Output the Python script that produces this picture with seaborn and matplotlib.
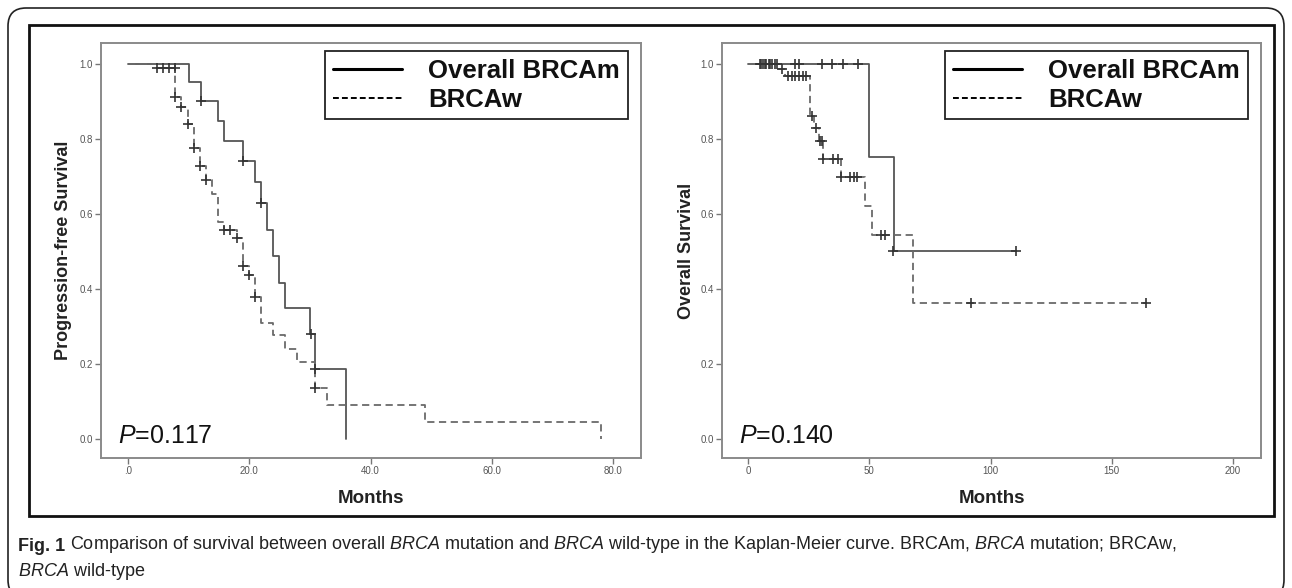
import numpy as np
import pandas as pd
import matplotlib
matplotlib.use("Agg")
import matplotlib.pyplot as plt
from matplotlib.lines import Line2D
from matplotlib.patches import FancyBboxPatch, Rectangle
from matplotlib import font_manager
import seaborn as sns

# Kaplan-Meier step data
groups = ["Overall BRCAm", "BRCAw"]

# Progression-free survival (left panel)
pfs_m_time = [0, 10.0, 12.0, 14.9, 15.9, 19.0, 20.9, 22.0, 22.9, 23.9, 24.9, 25.9, 30.0, 30.9, 36.0]
pfs_m_surv = [1.0, 0.952, 0.902, 0.847, 0.794, 0.741, 0.684, 0.628, 0.558, 0.487, 0.417, 0.350, 0.279, 0.186, 0.0]
pfs_m_cens_t = [12.0, 18.9, 21.9, 30.1, 30.9]
pfs_m_cens_s = [0.902, 0.741, 0.628, 0.279, 0.186]

pfs_w_time = [0, 7.8, 8.8, 9.9, 10.9, 11.9, 12.9, 13.9, 14.9, 15.9, 17.9, 19.0, 19.9, 20.9,
              22.0, 23.9, 25.9, 27.9, 30.9, 32.9, 48.9, 78.0]
pfs_w_surv = [1.0, 0.913, 0.886, 0.839, 0.777, 0.727, 0.690, 0.654, 0.578, 0.558, 0.535, 0.462, 0.437, 0.379,
              0.310, 0.277, 0.241, 0.206, 0.136, 0.090, 0.045, 0.0]
pfs_w_cens_t = [4.8, 5.8, 6.8, 7.8, 7.8, 8.8, 9.9, 10.9, 11.9, 12.9, 15.9, 16.9, 17.9, 19.0, 19.9, 20.9, 30.9]
pfs_w_cens_s = [0.99, 0.99, 0.99, 0.99, 0.913, 0.886, 0.839, 0.777, 0.727, 0.690, 0.558, 0.558, 0.535,
                0.462, 0.437, 0.379, 0.136]

# Overall survival (right panel)
os_m_time = [0, 50.1, 60.2, 110.3]
os_m_surv = [1.0, 0.752, 0.501, 0.501]
os_m_cens_t = [5.5, 7.0, 8.5, 10.0, 19.5, 21.0, 30.5, 34.5, 39.0, 45.5, 59.8, 110.3]
os_m_cens_s = [1.0, 1.0, 1.0, 1.0, 1.0, 1.0, 1.0, 1.0, 1.0, 1.0, 0.501, 0.501]

os_w_time = [0, 12.3, 15.4, 25.5, 27.2, 29.4, 31.1, 38.5, 48.2, 51.1, 68.2, 164.1]
os_w_surv = [1.0, 0.987, 0.967, 0.861, 0.830, 0.794, 0.747, 0.698, 0.620, 0.543, 0.362, 0.362]
os_w_cens_t = [5.0, 6.0, 7.5, 9.0, 11.0, 12.0, 14.0, 16.5, 18.0, 19.5, 21.0, 22.5, 24.0, 26.5, 28.0,
               29.7, 30.6, 31.1, 35.0, 37.3, 38.5, 42.2, 43.6, 45.1, 55.0, 56.4, 92.1, 164.1]
os_w_cens_s = [1.0, 1.0, 1.0, 1.0, 1.0, 1.0, 0.987, 0.967, 0.967, 0.967, 0.967, 0.967, 0.967, 0.861, 0.830,
               0.794, 0.794, 0.747, 0.747, 0.747, 0.698, 0.698, 0.698, 0.698, 0.543, 0.543, 0.362, 0.362]

y_ticks = [0.0, 0.2, 0.4, 0.6, 0.8, 1.0]
y_labels = ["0.0", "0.2", "0.4", "0.6", "0.8", "1.0"]
pfs_x_ticks = [0, 20, 40, 60, 80]
pfs_x_labels = [".0", "20.0", "40.0", "60.0", "80.0"]
os_x_ticks = [0, 50, 100, 150, 200]
os_x_labels = ["0", "50", "100", "150", "200"]

p_values = ["0.117", "0.140"]
y_titles = ["Progression-free Survival", "Overall Survival"]


def have_font(name):
    try:
        font_manager.findfont(font_manager.FontProperties(family=name), fallback_to_default=False)
        return True
    except Exception:
        return False


sns.set_theme(style="white")
plt.rcParams["font.family"] = ["Liberation Sans", "DejaVu Sans"]
narrow = "Liberation Sans Narrow" if have_font("Liberation Sans Narrow") else "Liberation Sans"
plt.rcParams["mathtext.fontset"] = "custom"
plt.rcParams["mathtext.rm"] = narrow
plt.rcParams["mathtext.it"] = narrow + ":italic"
plt.rcParams["mathtext.bf"] = narrow + ":bold"


def make_frames(m_t, m_s, w_t, w_s, mc_t, mc_s, wc_t, wc_s):
    curve = pd.DataFrame({
        "months": m_t + w_t,
        "survival": m_s + w_s,
        "group": [groups[0]] * len(m_t) + [groups[1]] * len(w_t),
    })
    cens = pd.DataFrame({
        "months": mc_t + wc_t,
        "survival": mc_s + wc_s,
    })
    return curve, cens


panels = [
    make_frames(pfs_m_time, pfs_m_surv, pfs_w_time, pfs_w_surv,
                pfs_m_cens_t, pfs_m_cens_s, pfs_w_cens_t, pfs_w_cens_s),
    make_frames(os_m_time, os_m_surv, os_w_time, os_w_surv,
                os_m_cens_t, os_m_cens_s, os_w_cens_t, os_w_cens_s),
]

fig = plt.figure(figsize=(12.92, 5.88), dpi=100)
W, H = 1292.0, 588.0

# outer rounded frame and inner box
fig.patches.append(FancyBboxPatch((8 / W, -10 / H), 1276 / W, 590 / H,
                                  boxstyle="round,pad=0,rounding_size=0.014",
                                  transform=fig.transFigure, fill=False,
                                  edgecolor="#222222", linewidth=1.2, mutation_aspect=W / H))
fig.patches.append(Rectangle((29 / W, 1 - 516 / H), 1245 / W, 491 / H,
                             transform=fig.transFigure, fill=False,
                             edgecolor="#111111", linewidth=2.0))

ax_pos = [[101 / W, 1 - 458 / H, 540 / W, 415 / H],
          [722 / W, 1 - 458 / H, 539 / W, 415 / H]]
xlims = [(-4.45, 84.6), (-10.7, 211.5)]
xticks = [(pfs_x_ticks, pfs_x_labels), (os_x_ticks, os_x_labels)]
ylabel_pads = [5, 4]

for i, (curve, cens) in enumerate(panels):
    ax = fig.add_axes(ax_pos[i])
    sns.lineplot(data=curve, x="months", y="survival", hue="group", style="group",
                 palette={groups[0]: "#555555", groups[1]: "#6a6a6a"},
                 dashes={groups[0]: "", groups[1]: (4, 2.5)},
                 estimator=None, drawstyle="steps-post", linewidth=1.3,
                 legend=False, ax=ax)
    sns.scatterplot(data=cens, x="months", y="survival", marker="+", s=60,
                    color="#333333", linewidth=1.2, legend=False, ax=ax, zorder=3)

    ax.set_xlim(*xlims[i])
    ax.set_ylim(-0.051, 1.056)
    ax.set_xticks(xticks[i][0])
    ax.set_xticklabels(xticks[i][1])
    ax.set_yticks(y_ticks)
    ax.set_yticklabels(y_labels)
    ax.tick_params(direction="out", length=4, width=1, color="#777777",
                   labelsize=7, labelcolor="#555555", pad=2,
                   bottom=True, left=True)
    for lab in ax.get_xticklabels() + ax.get_yticklabels():
        lab.set_family(narrow)
    for sp in ax.spines.values():
        sp.set_color("#8a8a8a")
        sp.set_linewidth(1.4)

    ax.set_xlabel("Months", fontsize=13.5, fontweight="bold", color="#222222", labelpad=10)
    ax.set_ylabel(y_titles[i], fontsize=13, fontweight="bold", color="#222222",
                  labelpad=ylabel_pads[i])

    ax.text(0.031, 0.036, r"$\it{P}$=" + p_values[i], transform=ax.transAxes,
            fontsize=18, color="#111111", ha="left", va="baseline")

    handles = [Line2D([0], [0], color="black", linewidth=2.2),
               Line2D([0], [0], color="black", linewidth=1.4, linestyle=(0, (3, 1.6)))]
    leg = ax.legend(handles, groups, loc="upper right", bbox_to_anchor=(0.975, 0.981),
                    fontsize=18.5, frameon=True, fancybox=False, framealpha=1,
                    edgecolor="#222222", handlelength=2.7, handletextpad=1.0,
                    labelspacing=0.2, borderpad=0.3, borderaxespad=0)
    leg.get_frame().set_linewidth(1.3)
    for t in leg.get_texts():
        t.set_fontweight("bold")
        t.set_color("#111111")

# caption: bold figure number, then the rest placed right after it
cap_size = 13
head = fig.text(18 / W, 1 - 551 / H, "Fig. 1", fontsize=cap_size, family=narrow,
                fontweight="bold", color="#222222", va="baseline")
cap1 = (r"Comparison of survival between overall $\it{BRCA}$ mutation and $\it{BRCA}$ "
        r"wild-type in the Kaplan-Meier curve. BRCAm, $\it{BRCA}$ mutation; BRCAw,")
plt.annotate(cap1, xy=(1, 0), xycoords=head, xytext=(3.5, 0), textcoords="offset points",
             fontsize=cap_size, family=narrow, color="#222222", va="bottom", ha="left",
             annotation_clip=False)
cap2 = r"$\it{BRCA}$ wild-type"
fig.text(18 / W, 1 - 576 / H, cap2, fontsize=cap_size, family=narrow, color="#222222", va="baseline")

fig.savefig("out.png", dpi=100)
